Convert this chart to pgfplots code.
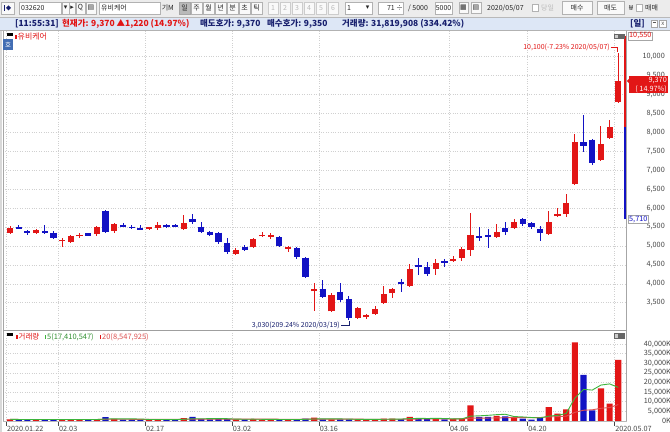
\documentclass[border=0pt]{standalone}
\usepackage{pgfplots}
\pgfplotsset{compat=1.18}
\usepackage{pgfplotstable}
\usepackage{fontspec}
\setmainfont{Noto Sans CJK KR}
\newfontfamily\dejavu{DejaVu Sans}
\newcommand\fs[1]{\fontsize{#1}{#1}\selectfont}

\definecolor{cRed}{RGB}{226,22,22}
\definecolor{cBlue}{RGB}{18,18,196}
\definecolor{gridc}{RGB}{208,208,208}
\definecolor{labc}{RGB}{70,70,70}
\definecolor{navy}{RGB}{24,32,110}
\definecolor{toolbg}{RGB}{236,236,236}
\definecolor{infobg}{RGB}{221,231,246}
\definecolor{maG}{RGB}{60,180,60}
\definecolor{maR}{RGB}{222,80,80}
\definecolor{hoblue}{RGB}{66,110,180}

% daily candles, up days (close >= open): index open high low close
\pgfplotstableread{
i o h l c
0 5350 5530 5330 5480
3 5340 5450 5330 5430
6 5120 5200 4970 5160
7 5100 5280 5080 5250
8 5250 5340 5210 5300
10 5320 5530 5260 5490
12 5400 5610 5350 5580
16 5440 5500 5420 5490
17 5470 5640 5420 5550
20 5440 5810 5430 5610
26 4800 4940 4780 4890
28 4960 5200 4940 5180
29 5250 5380 5240 5300
30 5240 5350 5180 5290
32 4930 5000 4840 4980
35 3800 4030 3280 3850
37 3270 3765 3245 3700
40 3100 3380 3080 3370
41 3110 3190 3070 3170
42 3200 3400 3190 3330
43 3500 3940 3480 3720
44 3750 3900 3630 3850
46 3940 4520 3920 4380
49 4390 4650 4230 4560
51 4600 4730 4575 4650
52 4690 4960 4600 4910
53 4890 5860 4735 5290
56 5245 5570 5230 5360
58 5480 5700 5440 5620
62 5310 5930 5290 5640
63 5790 5990 5770 5840
64 5840 6370 5760 6140
65 6630 7960 6600 7740
68 7270 8170 7240 7690
69 7840 8330 7820 8150
70 8810 10100 8770 9370
}\tblUp

% down days
\pgfplotstableread{
i o h l c
1 5500 5560 5440 5450
2 5390 5420 5290 5340
4 5390 5560 5310 5350
5 5350 5390 5190 5220
9 5340 5350 5260 5270
11 5920 5940 5340 5360
13 5560 5600 5490 5510
14 5510 5540 5460 5470
15 5480 5560 5420 5430
18 5540 5580 5470 5500
19 5550 5580 5490 5510
21 5710 5850 5570 5640
22 5510 5620 5350 5380
23 5380 5400 5250 5280
24 5350 5360 5050 5110
25 5090 5220 4780 4830
27 4980 5020 4860 4890
31 5230 5250 4960 5000
33 4940 4980 4650 4720
34 4690 4700 4160 4190
36 3850 4100 3615 3660
38 3790 4010 3530 3570
39 3590 3690 3030 3090
45 4060 4120 3790 4000
47 4490 4690 4230 4440
48 4435 4585 4205 4250
50 4600 4650 4435 4540
54 5260 5510 5140 5210
55 5290 5440 4940 5240
57 5465 5640 5290 5360
59 5700 5730 5530 5580
60 5600 5620 5440 5510
61 5450 5530 5140 5350
66 7745 8460 7490 7640
67 7810 7830 7140 7180
}\tblDn

% volume in thousands
\pgfplotstableread{
i v
0 800
3 600
6 600
7 700
8 600
10 900
12 1000
16 700
17 900
20 1400
26 800
28 900
29 600
30 600
32 600
35 1600
37 700
40 700
41 700
42 700
43 1100
44 1100
46 2000
49 1200
51 900
52 1200
53 8000
56 2600
58 2000
62 7200
63 3800
64 6000
65 41000
68 16900
69 9000
70 31820
}\volUp

\pgfplotstableread{
i v
1 600
2 700
4 700
5 800
9 600
11 1900
13 600
14 600
15 600
18 500
19 500
21 2000
22 900
23 800
24 900
25 900
27 700
31 700
33 800
34 1100
36 800
38 700
39 800
45 900
47 1200
48 900
50 800
54 2100
55 2100
57 2300
59 1100
60 600
61 1400
66 24000
67 5400
}\volDn

% 5 and 20 day volume averages, thousands
\pgfplotstableread{
i m5 m20
0 800 800
1 700 700
2 700 700
3 675 675
4 680 680
5 680 700
6 680 686
7 680 688
8 680 678
9 660 670
10 680 691
11 940 792
12 1000 808
13 1000 793
14 1000 780
15 940 769
16 700 765
17 680 772
18 660 758
19 640 745
20 800 775
21 1060 845
22 1060 855
23 1120 865
24 1200 875
25 1100 880
26 860 890
27 820 890
28 840 905
29 780 905
30 720 890
31 700 830
32 680 810
33 660 820
34 760 845
35 960 895
36 980 900
37 1000 890
38 980 900
39 920 915
40 740 880
41 720 815
42 720 805
43 800 820
44 860 830
45 900 830
46 1160 890
47 1260 915
48 1220 915
49 1240 945
50 1220 955
51 1000 965
52 1000 995
53 2420 1355
54 2600 1405
55 2860 1430
56 3200 1520
57 3420 1600
58 2220 1665
59 2020 1680
60 1720 1675
61 1480 1710
62 2460 2035
63 2820 2170
64 3800 2415
65 11880 4420
66 16400 5520
67 16040 5730
68 18660 6530
69 19260 6920
70 17424 8471
}\tblMA

\pgfplotsset{chart/.style={
  scale only axis, width=623bp, anchor=south west,
  xmin=-0.806, xmax=70.886,
  axis line style={draw=none},
  tick style={draw=none},
  scaled y ticks=false, scaled x ticks=false,
  xtick={-0.46,5.54,15.54,25.54,35.54,50.54,59.54,69.54},
  grid=major, grid style={dotted, gridc, line width=0.5bp},
  ytick pos=right, yticklabel pos=right,
  yticklabel style={anchor=east, inner sep=0pt, font=\fs{7.3}, text=labc},
},
candle/.style={only marks, mark=*, mark size=0pt,
  mark options={draw opacity=0, fill opacity=0},
  error bars/.cd, y dir=both, y explicit, error mark=none,
  error bar style={#1}}}

\begin{document}
\begin{tikzpicture}
\useasboundingbox (0,0) rectangle (670bp,432bp);
\fill[white] (0,0) rectangle (670bp,432bp);

% price panel
\begin{axis}[chart, at={(3bp,102bp)}, height=300bp,
  ymin=2779, ymax=10705, clip=false,
  xticklabels={},
  ytick={3500,4000,...,10000},
  yticklabels={{3,500},{4,000},{4,500},{5,000},{5,500},{6,000},{6,500},{7,000},{7,500},{8,000},{8,500},{9,000},{9,500},{10,000}},
  yticklabel style={xshift=39bp}]
  % wicks
  \addplot[candle={cRed, line width=0.9bp}]
    table[x=i, y=o, y error plus expr=\thisrow{h}-\thisrow{o}, y error minus expr=\thisrow{o}-\thisrow{l}]{\tblUp};
  \addplot[candle={cBlue, line width=0.9bp}]
    table[x=i, y=o, y error plus expr=\thisrow{h}-\thisrow{o}, y error minus expr=\thisrow{o}-\thisrow{l}]{\tblDn};
  % bodies
  \addplot[candle={cRed, line width=6.2bp}]
    table[x=i, y=o, y error plus expr=\thisrow{c}-\thisrow{o}, y error minus expr=0]{\tblUp};
  \addplot[candle={cBlue, line width=6.2bp}]
    table[x=i, y=o, y error plus expr=0, y error minus expr=\thisrow{o}-\thisrow{c}]{\tblDn};
  % daily limit band
  \addplot[cRed, line width=2bp] coordinates {(70.77,8150) (70.77,10550)};
  \addplot[cBlue, line width=2bp] coordinates {(70.77,5710) (70.77,8150)};
  % high / low notes
  \node[anchor=east, inner sep=0pt, font=\fs{7}, text=cRed] at (axis cs:69.04,10256) {10,100(-7.23\% 2020/05/07)};
  \draw[cRed, line width=0.6bp] (axis cs:69.15,10256) -- (axis cs:69.94,10256) -- (axis cs:69.94,10125);
  \node[anchor=east, inner sep=0pt, font=\fs{7}, text=navy] at (axis cs:37.97,2898) {3,030(209.24\% 2020/03/19)};
  \draw[navy, line width=0.6bp] (axis cs:38.09,2898) -- (axis cs:39.0,2898) -- (axis cs:39.0,3010);
\end{axis}

% volume panel
\begin{axis}[chart, at={(3bp,10.3bp)}, height=90.7bp,
  ymin=-470, ymax=46875,
  ytick={0,5000,...,40000},
  yticklabels={{0K},{5,000K},{10,000K},{15,000K},{20,000K},{25,000K},{30,000K},{35,000K},{40,000K}},
  yticklabel style={xshift=41bp},
  xticklabels={2020.01.22,02.03,02.17,03.02,03.16,04.06,04.20,2020.05.07},
  xtick pos=bottom, tick align=outside, major tick length=4bp,
  xtick style={draw=labc, line width=0.5bp},
  xticklabel style={anchor=north west, inner sep=0pt, font=\fs{7.3}, text=labc, xshift=0.8bp}]
  \addplot[ybar, bar width=6.2bp, bar shift=0pt, fill=cRed, draw=none] table[x=i, y=v]{\volUp};
  \addplot[ybar, bar width=6.2bp, bar shift=0pt, fill=cBlue, draw=none] table[x=i, y=v]{\volDn};
  \addplot[maR, line width=0.9bp] table[x=i, y=m20]{\tblMA};
  \addplot[maG, line width=0.9bp] table[x=i, y=m5]{\tblMA};
\end{axis}

\begin{scope}[x=1bp, y=1bp]
  % frame lines
  \fill[gray!30] (0,0) rectangle (2.5,402);
  \draw[gray!70, line width=0.6] (3,10.3) -- (3,402);
  \draw[gray!70, line width=0.6] (626.5,10.3) -- (626.5,402);
  \draw[gray!75, line width=0.8] (3,102) -- (626.5,102);
  \draw[gray!55, line width=0.5] (3,10.3) -- (626.5,10.3);

  % panel icons
  \foreach \yy in {393.5,94} {
    \draw[gray!80!black, fill=gray!40] (614,\yy) rectangle (618.5,\yy+4.5);
    \draw[gray!80!black, fill=gray!80!black] (619.5,\yy) rectangle (624,\yy+4.5);
  }

  % price legend
  \fill[black] (6.5,396) rectangle (13,398.5);
  \fill[cRed] (15,393) rectangle (16.5,397);
  \node[anchor=west, inner sep=0pt, font=\fs{8}, text=cRed] at (17.5,395) {유비케어};
  \fill[hoblue] (3,382) rectangle (13,393);
  \node[inner sep=0pt, font=\fs{6.5}, text=white] at (8,387.5) {호};

  % volume legend
  \fill[black] (6.5,96) rectangle (13,98.5);
  \fill[cRed] (16,93) rectangle (17.5,97);
  \node[anchor=west, inner sep=0pt, font=\fs{7.5}, text=cRed] at (18.5,95) {거래량};
  \fill[maG] (44.5,93) rectangle (46,97);
  \node[anchor=west, inner sep=0pt, font=\fs{7.5}, text=maG!80!black] at (47,95) {5(17,410,547)};
  \fill[cRed] (99.5,93) rectangle (101,97);
  \node[anchor=west, inner sep=0pt, font=\fs{7.5}, text=maR] at (102,95) {20(8,547,925)};

  % right side price boxes
  \node[anchor=west, draw=gray!70, fill=white, text=cRed, font=\fs{7.3}, inner xsep=1bp, inner ysep=0.8bp] at (628,396) {10,550};
  \fill[cRed] (629,338.5) rectangle (668,355.5);
  \fill[cRed] (626.8,351) -- (629.5,353.5) -- (629.5,348.5) -- cycle;
  \node[anchor=east, inner sep=0pt, font=\fs{7.3}, text=white] at (667,351) {9,370};
  \node[anchor=east, inner sep=0pt, font=\fs{7.3}, text=white] at (667,342.5) {( 14.97\%)};
  \node[anchor=west, draw=gray!70, fill=white, text=cBlue, font=\fs{7.3}, inner xsep=1bp, inner ysep=0.8bp] at (628,212.7) {5,710};

  % info bar
  \fill[infobg] (0,402) rectangle (670,415);
  \draw[gray!60, line width=0.5] (0,402) -- (670,402);
  \draw[gray!50, line width=0.5] (0,415) -- (670,415);
  \begin{scope}[every node/.style={anchor=west, inner sep=0pt, font=\fs{8.5}\bfseries}]
    \node[text=navy] at (15,408.5) {[11:55:31]};
    \node[text=cRed] at (62,408.5) {현재가: 9,370 ▲1,220 (14.97\%)};
    \node[text=navy] at (200,408.5) {매도호가: 9,370};
    \node[text=navy] at (267,408.5) {매수호가: 9,350};
    \node[text=navy] at (342,408.5) {거래량: 31,819,908 (334.42\%)};
    \node[text=navy] at (630,408.5) {[일]};
  \end{scope}
  \draw[gray!70, fill=white] (651,405) rectangle (657.5,411.5);
  \draw[gray!70, fill=white] (659.5,405) rectangle (666,411.5);
  \node[inner sep=0pt, font=\fs{6}, text=gray!70!black] at (662.75,408.3) {x};
  \draw[gray!70!black] (652.5,410) -- (656,410);

  % tool bar
  \fill[toolbg] (0,415) rectangle (670,432);
  \begin{scope}[every node/.style={inner sep=0pt, font=\fs{7}, text=black!85}]
    \draw[gray!60, fill=white!95!gray] (1.5,418) rectangle (14,430);
    \draw[navy, line width=0.8] (4,421) -- (4,427);
    \fill[navy] (6,424) -- (8.5,426.5) -- (11,424) -- (8.5,421.5) -- cycle;
    \draw[gray!60, fill=white] (19,418) rectangle (61,430);
    \node[anchor=west] at (21,424) {032620};
    \draw[gray!60, fill=white!95!gray] (62,418) rectangle (69,430);
    \node at (65.5,424) {\dejavu ▾};
    \draw[gray!60, fill=white!95!gray] (69,418) rectangle (75,430);
    \node at (72,424) {\dejavu ▸};
    \draw[gray!60, fill=white!95!gray] (76,418) rectangle (85,430);
    \node at (80.5,424) {Q};
    \draw[gray!60, fill=white!95!gray] (86,418) rectangle (96,430);
    \node at (91,424) {\dejavu ▤};
    \draw[gray!60, fill=white] (99,418) rectangle (160,430);
    \node[anchor=west] at (101,424) {유비케어};
    \node at (165,424) {기};
    \node at (171,424) {M};
    \fill[gray!55] (179,418) rectangle (190,430);
    \draw[gray!70] (179,418) rectangle (190,430);
    \node at (184.5,424) {일};
    \foreach \a/\t in {191/주,203/월,215/년,227/분,239/초,251/틱} {
      \draw[gray!60, fill=white!95!gray] (\a,418) rectangle (\a+11,430);
      \node at (\a+5.5,424) {\t};
    }
    \foreach \a/\t in {268/1,280/2,292/3,304/4,316/5,328/6} {
      \draw[gray!40, fill=white!95!gray] (\a,418) rectangle (\a+10,430);
      \node[text=gray!55] at (\a+5,424) {\t};
    }
    \draw[gray!60, fill=white] (345,418) rectangle (372,430);
    \node[anchor=west] at (347,424) {1};
    \node at (367.5,424) {\dejavu ▾};
    \draw[gray!60, fill=white] (378,418) rectangle (403,430);
    \node[anchor=east] at (395,424) {71};
    \node at (399.5,424) {÷};
    \node[anchor=west] at (408,424) {/ 5000};
    \draw[gray!60, fill=white] (435,418) rectangle (452,430);
    \node at (443.5,424) {5000};
    \draw[gray!60, fill=white!95!gray] (459,418.5) rectangle (468,429.5);
    \node at (463.5,424) {\dejavu ▦};
    \draw[gray!60, fill=white!95!gray] (471,418.5) rectangle (481,429.5);
    \node at (476,424) {\dejavu ▤};
    \node[anchor=west] at (487,424) {2020/05/07};
    \draw[gray!60, fill=white] (532,420.5) rectangle (538,427.5);
    \node[anchor=west, text=gray!55] at (541,424) {당일};
    \draw[gray!60, fill=white!95!gray] (562,417.5) rectangle (592,430.5);
    \node at (577,424) {매수};
    \draw[gray!60, fill=white!95!gray] (597,417.5) rectangle (624,430.5);
    \node at (610.5,424) {매도};
    \node at (631,424) {₩};
    \draw[gray!60, fill=white] (636,420.5) rectangle (642,427.5);
    \node[anchor=west] at (645,424) {매매};
  \end{scope}
  \draw[gray!55, line width=0.5] (0,415.2) -- (670,415.2);
\end{scope}
\end{tikzpicture}
\end{document}
